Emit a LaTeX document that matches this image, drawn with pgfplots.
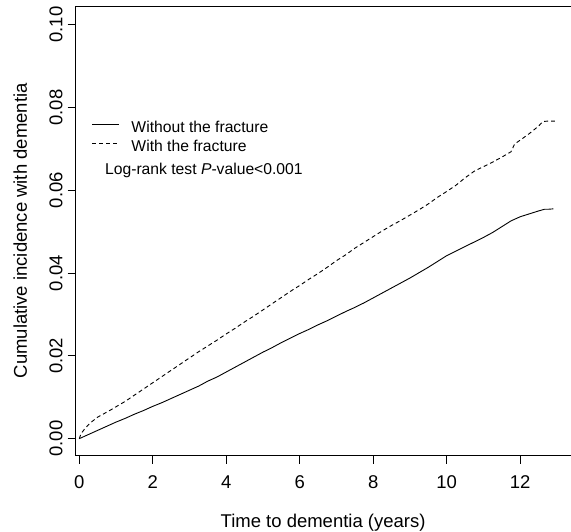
\documentclass[border=0pt]{standalone}
\usepackage{fontspec}
\setmainfont{Liberation Sans}
\usepackage{pgfplots}
\pgfplotsset{compat=1.18}
\begin{document}
\begin{tikzpicture}[x=1pt,y=1pt]
\begin{axis}[
  at={(0,0)}, anchor=south west,
  scale only axis, width=495.3pt, height=450pt,
  xmin=-0.098, xmax=13.37, ymin=-0.0041, ymax=0.1045,
  axis x line*=box, axis y line*=left,
  xtick={0,2,4,6,8,10,12},
  ytick={0,0.02,0.04,0.06,0.08,0.1},
  xtick pos=left, ytick pos=left,
  tick align=outside, major tick length=8pt,
  tick style={line width=0.8pt, black},
  axis line style={line width=0.9pt, black},
  tick label style={font=\fontsize{18.5}{22}\selectfont},
  /pgf/number format/assume math mode=true,
  scaled y ticks=false,
  yticklabel style={rotate=90, anchor=south, inner sep=0pt,
    /pgf/number format/fixed, /pgf/number format/fixed zerofill, /pgf/number format/precision=2},
  xticklabel style={anchor=north, inner sep=0pt},
  xticklabel shift=12pt, yticklabel shift=5pt,
  xlabel={Time to dementia (years)},
  ylabel={Cumulative incidence with dementia},
  every axis x label/.style={at={(axis description cs:0.5,-0.16)}, anchor=base, inner sep=0pt, font=\fontsize{18.5}{22}\selectfont},
  every axis y label/.style={at={(axis description cs:-0.0983,0.5)}, rotate=90, anchor=base, inner sep=0pt, font=\fontsize{18.5}{22}\selectfont},
  legend cell align=left,
  legend image code/.code={\draw[#1] (0pt,5.6pt) -- (27.3pt,5.6pt);},
  legend style={draw=none, fill=none, inner sep=0pt, outer sep=0pt, row sep=0pt, column sep=11.7pt,
    font=\fontsize{15.7}{18}\selectfont,
    at={(axis description cs:0.0323,0.745)}, anchor=north west,
    nodes={inner sep=0pt, text height=11.5pt, text depth=7.5pt}},
]
\addplot[black, line width=0.9pt] coordinates {
(0,0) (0.25,0.0010) (0.5,0.0020) (0.75,0.0030) (1.0,0.0040) (1.25,0.0049)
(1.5,0.0059) (1.75,0.0068) (2.0,0.0078) (2.25,0.0087) (2.5,0.0097) (2.75,0.0107)
(3.0,0.0117) (3.25,0.0127) (3.5,0.0139) (3.75,0.0149) (4.0,0.0161) (4.25,0.0173)
(4.5,0.0185) (4.75,0.0197) (5.0,0.0209) (5.25,0.0220) (5.5,0.0232) (5.75,0.0243)
(6.0,0.0254) (6.25,0.0264) (6.5,0.0275) (6.75,0.0285) (7.0,0.0296) (7.25,0.0307)
(7.5,0.0317) (7.75,0.0328) (8.0,0.0340) (8.25,0.0352) (8.5,0.0364) (8.75,0.0376)
(9.0,0.0388) (9.25,0.0401) (9.5,0.0414) (9.75,0.0428) (10.0,0.0442) (10.25,0.0453)
(10.5,0.0464) (10.75,0.0475) (11.0,0.0486) (11.25,0.0498) (11.5,0.0512) (11.75,0.0526)
(12.0,0.0536) (12.25,0.0543) (12.5,0.0550) (12.66,0.0554) (12.75,0.0554) (12.9,0.0555)
};
\addlegendentry{Without the fracture}
\addplot[black, line width=0.9pt, dash pattern=on 4pt off 3pt] coordinates {
(0,0) (0.05,0.0012) (0.15,0.0024) (0.3,0.0038) (0.5,0.0052) (0.79,0.0066)
(1.0,0.0077) (1.25,0.0090) (1.5,0.0105) (1.75,0.0120) (2.0,0.0135) (2.25,0.0150)
(2.5,0.0165) (2.75,0.0180) (3.0,0.0195) (3.25,0.0210) (3.5,0.0224) (3.75,0.0238)
(4.0,0.0253) (4.25,0.0267) (4.5,0.0282) (4.75,0.0296) (5.0,0.0311) (5.25,0.0326)
(5.5,0.0341) (5.75,0.0356) (6.0,0.0370) (6.25,0.0385) (6.5,0.0399) (6.75,0.0414)
(7.0,0.0430) (7.25,0.0444) (7.5,0.0460) (7.75,0.0474) (8.0,0.0488) (8.25,0.0502)
(8.5,0.0515) (8.75,0.0527) (9.0,0.0540) (9.25,0.0553) (9.5,0.0567) (9.75,0.0583)
(10.0,0.0597) (10.25,0.0612) (10.5,0.0630) (10.75,0.0646) (11.0,0.0657) (11.25,0.0668)
(11.5,0.0680) (11.75,0.0693) (11.85,0.0712) (12.0,0.0721) (12.25,0.0737) (12.5,0.0755)
(12.62,0.0766) (12.75,0.0767) (12.94,0.0767)
};
\addlegendentry{With the fracture}
\node[anchor=base west, inner sep=0pt, font=\fontsize{15.7}{18}\selectfont] at (axis cs:0.699,0.0637) {Log-rank test \textit{P}-value<0.001};
\end{axis}
\path (-75.7pt,-76pt) rectangle (495.3pt,456pt);
\end{tikzpicture}
\end{document}
